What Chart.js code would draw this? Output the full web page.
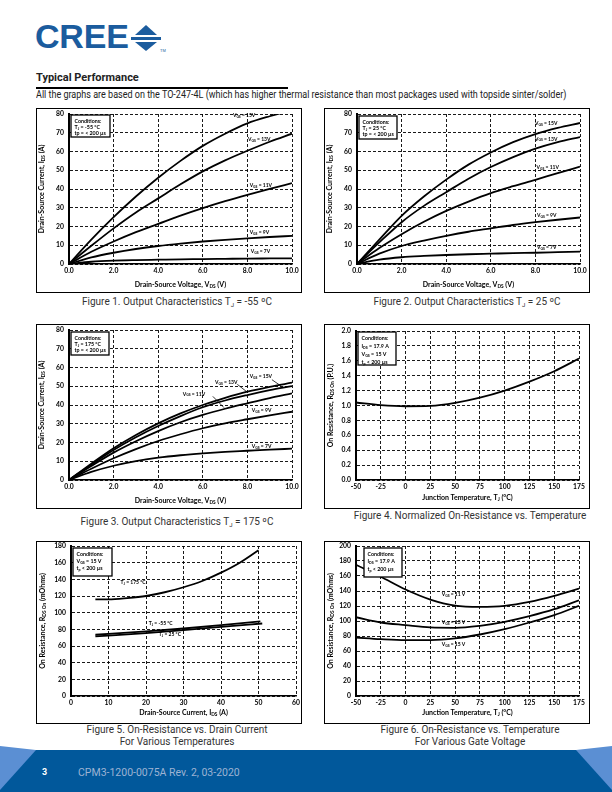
<!DOCTYPE html>
<html>
<head>
<meta charset="utf-8">
<script src="https://cdn.jsdelivr.net/npm/chart.js@4.4.0/dist/chart.umd.min.js"></script>
<style>
  body { margin: 0; width: 612px; height: 792px; position: relative; background: #fff; overflow: hidden;
         font-family: "Roboto", sans-serif; }
  .frame { position: absolute; border: 1px solid #000; box-sizing: border-box; }
  .frame canvas { position: absolute; left: 0; top: 0; }
  .cap { position: absolute; width: 300px; text-align: center; font-size: 10px; line-height: 12px; color: #333; }
  .cap sub { font-size: 6px; vertical-align: -2px; }
  #logo { position: absolute; left: 35px; top: 17px; font-family: "Liberation Sans", sans-serif; font-weight: bold;
          font-size: 34px; color: #1b5c9e; letter-spacing: -0.2px; }
  #logoMark { position: absolute; left: 131px; top: 24px; }
  #title { position: absolute; left: 36px; top: 71px; font-weight: bold; font-size: 11px; color: #222; }
  #rule { position: absolute; left: 36px; top: 87px; width: 252px; height: 2px; background: #000; }
  #sub { position: absolute; left: 36px; top: 89px; font-size: 10px; color: #222; white-space: nowrap; transform-origin: 0 0; }
  #foot { position: absolute; left: 0; top: 740px; }
  #pageNo { position: absolute; left: 42px; top: 767px; font-weight: bold; font-size: 9px; color: #fff; }
  #docId { position: absolute; left: 78px; top: 766px; font-size: 10.5px; color: #9db3d3; }
</style>
</head>
<body>

<div id="logo">CREE</div>
<svg id="logoMark" width="36" height="30" viewBox="0 0 36 30">
  <polygon points="15,1 26,11 4,11" fill="#1b5c9e"/>
  <rect x="0" y="13" width="30" height="3" fill="#1b5c9e"/>
  <polygon points="4,18 26,18 15,27" fill="#1b5c9e"/>
  <text x="29" y="28" font-size="4" font-family="Liberation Sans" fill="#1b5c9e">TM</text>
</svg>
<div id="title">Typical Performance</div>
<div id="rule"></div>
<div id="sub">All the graphs are based on the TO-247-4L (which has higher thermal resistance than most packages used with topside sinter/solder)</div>

<div class="cap" style="left:27px;top:296px">Figure 1. Output Characteristics T<sub>J</sub> = -55 ºC</div>
<div class="cap" style="left:317px;top:296px">Figure 2. Output Characteristics T<sub>J</sub> = 25 ºC</div>
<div class="cap" style="left:27px;top:516px">Figure 3. Output Characteristics T<sub>J</sub> = 175 ºC</div>
<div class="cap" style="left:320px;top:510px">Figure 4. Normalized On-Resistance vs. Temperature</div>
<div class="cap" style="left:27px;top:724px">Figure 5. On-Resistance vs. Drain Current<br>For Various Temperatures</div>
<div class="cap" style="left:320px;top:724px">Figure 6. On-Resistance vs. Temperature<br>For Various Gate Voltage</div>

<svg id="foot" width="612" height="52" viewBox="0 0 612 52">
  <rect x="0" y="10" width="612" height="42" fill="#01589b"/>
  <polygon points="0,6 36,10 0,50" fill="#5b8fd3"/>
  <polygon points="576,10 612,6 612,50" fill="#5b8fd3"/>
</svg>
<div id="pageNo">3</div>
<div id="docId">CPM3-1200-0075A Rev. 2, 03-2020</div>

<script>
// Untertitel auf die Breite der Vorlage stauchen
const sub = document.getElementById("sub");
sub.style.transform = "scaleX(" + (530 / sub.scrollWidth) + ")";

// Achsen-Ticks
const vdsTicks = [0, 2, 4, 6, 8, 10];
const vdsLabels = ["0.0", "2.0", "4.0", "6.0", "8.0", "10.0"];
const idsTicks = [0, 10, 20, 30, 40, 50, 60, 70, 80];
const idsLabels = ["0", "10", "20", "30", "40", "50", "60", "70", "80"];
const tempTicks = [-50, -25, 0, 25, 50, 75, 100, 125, 150, 175];
const tempLabels = ["-50", "-25", "0", "25", "50", "75", "100", "125", "150", "175"];
const puTicks = [0, 0.2, 0.4, 0.6, 0.8, 1.0, 1.2, 1.4, 1.6, 1.8, 2.0];
const puLabels = ["0.0", "0.2", "0.4", "0.6", "0.8", "1.0", "1.2", "1.4", "1.6", "1.8", "2.0"];
const idTicks = [0, 10, 20, 30, 40, 50, 60];
const idLabels = ["0", "10", "20", "30", "40", "50", "60"];
const rdsTicks5 = [0, 20, 40, 60, 80, 100, 120, 140, 160, 180];
const rdsLabels5 = ["0", "20", "40", "60", "80", "100", "120", "140", "160", "180"];
const rdsTicks6 = [0, 20, 40, 60, 80, 100, 120, 140, 160, 180, 200];
const rdsLabels6 = ["0", "20", "40", "60", "80", "100", "120", "140", "160", "180", "200"];

// Ausgangskennlinien, V_DS in V
const vds = [0, 1, 2, 3, 4, 5, 6, 7, 8, 9, 10];
// Tj = -55 °C
const ids_m55_15 = [0, 13, 25, 36, 46, 55, 63, 69.5, 75, 78.8, 82];
const ids_m55_13 = [0, 9.7, 19, 27.5, 35, 42.5, 49.4, 55.3, 60.4, 65.2, 69.5];
const ids_m55_11 = [0, 6.5, 12, 17, 21.4, 25.8, 29.8, 33.5, 36.9, 40.1, 43.1];
const ids_m55_9 = [0, 3.5, 6, 8, 9.6, 10.9, 12, 12.9, 13.7, 14.4, 15];
const ids_m55_7 = [0, 1.2, 1.8, 2.1, 2.3, 2.5, 2.6, 2.75, 2.9, 2.95, 3.0];
// Tj = 25 °C
const ids_25_15 = [0, 13, 25.7, 36, 45, 53, 59.5, 65, 69.3, 72.6, 75.2];
const ids_25_13 = [0, 11.5, 22.3, 31, 38.3, 45.5, 51.7, 57, 61.5, 65, 67.7];
const ids_25_11 = [0, 8.5, 15.9, 22.5, 28.3, 33.3, 37.8, 41.5, 44.9, 48.5, 51.9];
const ids_25_9 = [0, 5.5, 9.6, 12.5, 15, 17.2, 19, 20.8, 22.3, 23.6, 24.8];
const ids_25_7 = [0, 2.3, 3.6, 4.3, 4.8, 5.2, 5.5, 5.8, 6, 6.3, 6.6];
// Tj = 175 °C
const ids_175_15 = [0, 8.7, 16.9, 24, 30.2, 35.5, 40, 43.8, 47.1, 49.7, 51.9];
const ids_175_13 = [0, 8.2, 16, 22.8, 28.8, 34.1, 38.8, 42.4, 45.3, 47.9, 50.1];
const ids_175_11 = [0, 7.5, 14.6, 20.7, 26.1, 30.8, 34.7, 38, 40.9, 43.7, 46.2];
const ids_175_9 = [0, 6, 11.6, 16.5, 20.8, 24.4, 27.6, 30.2, 32.4, 34.5, 36.4];
const ids_175_7 = [0, 4.3, 7.6, 10.1, 11.9, 13.2, 14.2, 15, 15.6, 16.2, 16.7];

// Normierter Einschaltwiderstand
const tj = [-50, -25, 0, 25, 50, 75, 100, 125, 150, 175];
const rdsNorm = [1.04, 1.005, 0.99, 0.995, 1.035, 1.105, 1.2, 1.32, 1.46, 1.63];

// R_DS(on) vs. I_DS
const idsHot = [6.5, 10, 15, 20, 25, 30, 35, 40, 45, 50];
const rds175 = [116, 116, 117.5, 120, 124.5, 130.5, 138, 148, 160, 175];
const idsCold = [6.5, 20, 30, 40, 50.5];
const rdsM55 = [73.5, 77.5, 81, 85, 89.5];
const idsRoom = [6.5, 20, 30, 40, 51];
const rds25 = [71.5, 75.5, 79, 83, 87];

// R_DS(on) vs. Tj bei verschiedenen V_GS
const rdsVgs11 = [175, 159, 142, 128.6, 120.5, 118.8, 120.2, 125.5, 133.5, 143.2];
const rdsVgs13 = [105, 98, 94.5, 91.4, 90.9, 93.6, 98.9, 106.4, 115.7, 127.7];
const rdsVgs15 = [78, 75.8, 74.5, 74.5, 76.7, 82, 89.1, 98, 107.8, 120.2];

const FONT = "Lato, 'DejaVu Sans', sans-serif";

// Text mit Tiefstellung: "I_{DS}"
function teile(s) {
  const out = [];
  const re = /_\{([^}]*)\}/g;
  let last = 0, m;
  while ((m = re.exec(s))) {
    if (m.index > last) out.push([s.slice(last, m.index), false]);
    out.push([m[1], true]);
    last = re.lastIndex;
  }
  if (last < s.length) out.push([s.slice(last), false]);
  return out;
}

function schreib(ctx, s, x, y, size, align) {
  const parts = teile(s);
  const font = (sub) => "bold " + (sub ? size * 0.68 : size) + "px " + FONT;
  let w = 0;
  parts.forEach(([t, sub]) => { ctx.font = font(sub); w += ctx.measureText(t).width; });
  let cx = align === "center" ? x - w / 2 : align === "right" ? x - w : x;
  ctx.textAlign = "left";
  ctx.textBaseline = "middle";
  parts.forEach(([t, sub]) => {
    ctx.font = font(sub);
    ctx.fillText(t, cx, sub ? y + size * 0.28 : y);
    cx += ctx.measureText(t).width;
  });
}

function overlay(o) {
  return {
    id: "overlay",
    afterDatasetsDraw(chart) {
      const { ctx, chartArea: a, scales } = chart;
      const sx = scales.x, sy = scales.y;
      ctx.save();
      ctx.fillStyle = "#000";
      ctx.strokeStyle = "#000";

      (o.leaders || []).forEach(([x1, y1, x2, y2]) => {
        ctx.lineWidth = 0.8;
        ctx.beginPath();
        ctx.moveTo(sx.getPixelForValue(x1), sy.getPixelForValue(y1));
        ctx.lineTo(sx.getPixelForValue(x2), sy.getPixelForValue(y2));
        ctx.stroke();
      });

      (o.labels || []).forEach((l) => {
        schreib(ctx, l.text, sx.getPixelForValue(l.x), sy.getPixelForValue(l.y), 5, "left");
      });

      // Bedingungen-Kasten
      if (o.box) {
        const b = o.box;
        const bx = a.left + b.dx, by = a.top + b.dy;
        ctx.fillStyle = "#fff";
        ctx.fillRect(bx, by, b.w, b.h);
        ctx.lineWidth = 1.3;
        ctx.strokeRect(bx, by, b.w, b.h);
        ctx.fillStyle = "#000";
        b.lines.forEach((t, i) => schreib(ctx, t, bx + 3.5, by + 6 + i * b.step, 5.3, "left"));
      }

      // Achsentitel
      schreib(ctx, o.xTitle, (a.left + a.right) / 2, o.xTitleY, 7, "center");
      ctx.translate(o.yTitleX, (a.top + a.bottom) / 2);
      ctx.rotate(-Math.PI / 2);
      schreib(ctx, o.yTitle, 0, 0, 7, "center");
      ctx.restore();
    }
  };
}

function achse(ticks, labels, size, vertikal) {
  return {
    type: "linear",
    min: ticks[0],
    max: ticks[ticks.length - 1],
    afterBuildTicks: (s) => { s.ticks = ticks.map((v) => ({ value: v })); },
    afterFit: (s) => {
      if (vertikal) s.width = size; else s.height = size;
      s.paddingLeft = s.paddingRight = s.paddingTop = s.paddingBottom = 0;
    },
    grid: { color: "#000", lineWidth: 0.9, drawTicks: false },
    border: { display: true, color: "#000", width: vertikal ? 2 : 1.5, dash: [3, 2] },
    ticks: {
      autoSkip: false, maxRotation: 0, padding: vertikal ? 5 : 3, color: "#000",
      font: { family: FONT, weight: "bold", size: 6.8 },
      callback: (v, i) => labels[i]
    }
  };
}

function serie(xs, ys) {
  return {
    data: xs.map((x, i) => ({ x: x, y: ys[i] })),
    borderColor: "#000", borderWidth: 1.8, pointRadius: 0,
    cubicInterpolationMode: "monotone", fill: false
  };
}

function diagramm(c) {
  const [fl, ft, fw, fh] = c.frame;
  const [pl, pt, pr, pb] = c.plot;
  const div = document.createElement("div");
  div.className = "frame";
  div.style.left = fl + "px"; div.style.top = ft + "px";
  div.style.width = fw + "px"; div.style.height = fh + "px";
  const cv = document.createElement("canvas");
  const cw = fw - 2, ch = fh - 2, ox = fl + 1, oy = ft + 1;
  cv.width = cw; cv.height = ch;
  cv.style.width = cw + "px"; cv.style.height = ch + "px";
  div.appendChild(cv);
  document.body.appendChild(div);

  new Chart(cv, {
    type: "line",
    data: { datasets: c.series },
    options: {
      responsive: false, animation: false, events: [],
      layout: { autoPadding: false, padding: { left: 0, top: pt - oy, right: cw - (pr - ox), bottom: 0 } },
      plugins: { legend: { display: false }, tooltip: { enabled: false } },
      scales: {
        x: achse(c.xTicks, c.xLabels, oy + ch - pb, false),
        y: achse(c.yTicks, c.yLabels, pl - ox, true)
      }
    },
    plugins: [overlay(c.overlay)]
  });
}

const vgsLabel = (v) => "V_{GS} = " + v + "V";
const tpText = "tp = < 200 µs";

diagramm({
  frame: [36, 108, 266, 185], plot: [69, 114, 292, 264],
  xTicks: vdsTicks, xLabels: vdsLabels, yTicks: idsTicks, yLabels: idsLabels,
  series: [serie(vds, ids_m55_15), serie(vds, ids_m55_13), serie(vds, ids_m55_11), serie(vds, ids_m55_9), serie(vds, ids_m55_7)],
  overlay: {
    xTitle: "Drain-Source Voltage, V_{DS} (V)", xTitleY: 176,
    yTitle: "Drain-Source Current, I_{DS} (A)", yTitleX: 5,
    labels: [
      { text: vgsLabel(15), x: 7.35, y: 79 }, { text: vgsLabel(13), x: 8.03, y: 66.5 },
      { text: vgsLabel(11), x: 8.1, y: 42 }, { text: vgsLabel(9), x: 8.1, y: 16.8 }, { text: vgsLabel(7), x: 8.15, y: 6.6 }
    ],
    box: { dx: 2, dy: 1, w: 39, h: 22, step: 6, lines: ["Conditions:", "T_{J} = -55 °C", tpText] }
  }
});

diagramm({
  frame: [324, 108, 266, 185], plot: [357, 114, 580, 264],
  xTicks: vdsTicks, xLabels: vdsLabels, yTicks: idsTicks, yLabels: idsLabels,
  series: [serie(vds, ids_25_15), serie(vds, ids_25_13), serie(vds, ids_25_11), serie(vds, ids_25_9), serie(vds, ids_25_7)],
  overlay: {
    xTitle: "Drain-Source Voltage, V_{DS} (V)", xTitleY: 176,
    yTitle: "Drain-Source Current, I_{DS} (A)", yTitleX: 5,
    labels: [
      { text: vgsLabel(15), x: 7.98, y: 75 }, { text: vgsLabel(13), x: 7.98, y: 66.7 },
      { text: vgsLabel(11), x: 8.05, y: 51.7 }, { text: vgsLabel(9), x: 8.07, y: 25.7 }, { text: vgsLabel(7), x: 8.07, y: 8.7 }
    ],
    box: { dx: 2, dy: 2, w: 38, h: 23, step: 6, lines: ["Conditions:", "T_{J} = 25 °C", tpText] }
  }
});

diagramm({
  frame: [36, 324, 266, 185], plot: [69, 330, 292, 480],
  xTicks: vdsTicks, xLabels: vdsLabels, yTicks: idsTicks, yLabels: idsLabels,
  series: [serie(vds, ids_175_15), serie(vds, ids_175_13), serie(vds, ids_175_11), serie(vds, ids_175_9), serie(vds, ids_175_7)],
  overlay: {
    xTitle: "Drain-Source Voltage, V_{DS} (V)", xTitleY: 176,
    yTitle: "Drain-Source Current, I_{DS} (A)", yTitleX: 5,
    labels: [
      { text: vgsLabel(15), x: 8.1, y: 55.1 }, { text: vgsLabel(13), x: 6.55, y: 51.9 },
      { text: vgsLabel(11), x: 5.1, y: 45.9 }, { text: vgsLabel(9), x: 8.2, y: 37 }, { text: vgsLabel(7), x: 8.2, y: 18.1 }
    ],
    leaders: [[9.1, 53.5, 9.5, 50.2], [7.55, 51, 8.0, 46.8], [6.45, 44.6, 6.95, 38.6]],
    box: { dx: 2, dy: 2, w: 38, h: 23, step: 6, lines: ["Conditions:", "T_{J} = 175 °C", tpText] }
  }
});

diagramm({
  frame: [324, 324, 266, 185], plot: [356, 331, 579, 480],
  xTicks: tempTicks, xLabels: tempLabels, yTicks: puTicks, yLabels: puLabels,
  series: [serie(tj, rdsNorm)],
  overlay: {
    xTitle: "Junction Temperature, T_{J} (°C)", xTitleY: 173,
    yTitle: "On Resistance, R_{DS On} (P.U.)", yTitleX: 6,
    box: { dx: 2, dy: 1, w: 38, h: 33, step: 8, lines: ["Conditions:", "I_{DS} = 17.9 A", "V_{GS} = 15 V", "t_{p} < 200 µs"] }
  }
});

diagramm({
  frame: [36, 541, 266, 183], plot: [71, 546, 296, 696],
  xTicks: idTicks, xLabels: idLabels, yTicks: rdsTicks5, yLabels: rdsLabels5,
  series: [serie(idsHot, rds175), serie(idsCold, rdsM55), serie(idsRoom, rds25)],
  overlay: {
    xTitle: "Drain-Source Current, I_{DS} (A)", xTitleY: 171,
    yTitle: "On Resistance, R_{DS On} (mOhms)", yTitleX: 6,
    labels: [
      { text: "T_{J} = 175 °C", x: 13.2, y: 136 },
      { text: "T_{J} = -55 °C", x: 20.7, y: 87 },
      { text: "T_{J} = 25 °C", x: 23.4, y: 73.8 }
    ],
    box: { dx: 2, dy: 2, w: 39, h: 28, step: 7, lines: ["Conditions:", "V_{GS} = 15 V", "t_{p} < 200 µs"] }
  }
});

diagramm({
  frame: [324, 541, 266, 183], plot: [356, 546, 579, 696],
  xTicks: tempTicks, xLabels: tempLabels, yTicks: rdsTicks6, yLabels: rdsLabels6,
  series: [serie(tj, rdsVgs11), serie(tj, rdsVgs13), serie(tj, rdsVgs15)],
  overlay: {
    xTitle: "Junction Temperature, T_{J} (°C)", xTitleY: 171,
    yTitle: "On Resistance, R_{DS On} (mOhms)", yTitleX: 6,
    labels: [
      { text: "V_{GS} = 11 V", x: 36.5, y: 135.3 },
      { text: "V_{GS} = 13 V", x: 36.5, y: 98 },
      { text: "V_{GS} = 15 V", x: 36.5, y: 68.7 }
    ],
    box: { dx: 8, dy: 2, w: 38, h: 29, step: 7.5, lines: ["Conditions:", "I_{DS} = 17.9 A", "t_{p} < 200 µs"] }
  }
});
</script>
</body>
</html>
